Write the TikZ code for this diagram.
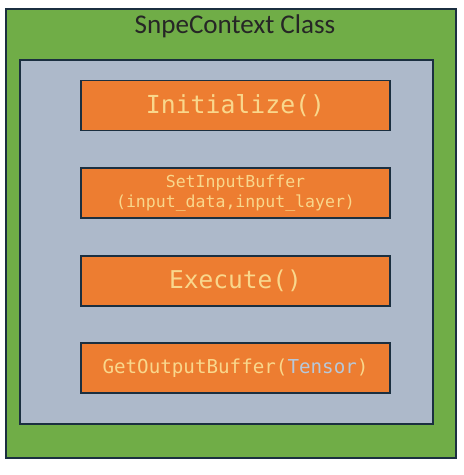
\documentclass[tikz,border=0pt]{standalone}
\usepackage{fontspec}
\setmainfont{Carlito}
\newfontfamily\codefont{DejaVu Sans Mono}
\definecolor{classgreen}{HTML}{70AD47}
\definecolor{bodygray}{HTML}{ADB9CA}
\definecolor{methodorange}{HTML}{ED7D31}
\definecolor{edgenavy}{HTML}{1B2F40}
\definecolor{codepeach}{HTML}{F9D78C}
\definecolor{argblue}{HTML}{B7C8DA}

\tikzset{
    methodBox/.style={draw=edgenavy, line width=1.2pt, fill=methodorange,
        minimum width=231.75pt, minimum height=37.5pt, inner sep=0pt,
        align=center, text=codepeach},
    frameLine/.style={draw=edgenavy, line width=1.3pt}
}

\begin{document}
\begin{tikzpicture}[x=0.75pt, y=-0.75pt]

\useasboundingbox (0,0) rectangle (464,475);

% --- FRAMES ---
\draw[frameLine, fill=classgreen] (6,9) rectangle (456,458);
\draw[frameLine, fill=bodygray] (20,60) rectangle (433,424);

\node[font=\fontsize{20.3}{22}\selectfont, text=black!85] (title) at (235,26)
    {SnpeContext Class};

% --- METHODS ---
\node[methodBox, font=\codefont\fontsize{18.6}{20}\selectfont] (init) at (235.5,105.5)
    {Initialize()};
\node[methodBox, font=\codefont\fontsize{12.4}{15}\selectfont] (setInput) at (235.5,193)
    {SetInputBuffer\\(input\_data,input\_layer)};
\node[methodBox, font=\codefont\fontsize{18.4}{20}\selectfont] (exec) at (235.5,281)
    {Execute()};
\node[methodBox, font=\codefont\fontsize{14.4}{16}\selectfont] (getOutput) at (235.5,368)
    {GetOutputBuffer(\textcolor{argblue}{Tensor})};

\end{tikzpicture}
\end{document}
